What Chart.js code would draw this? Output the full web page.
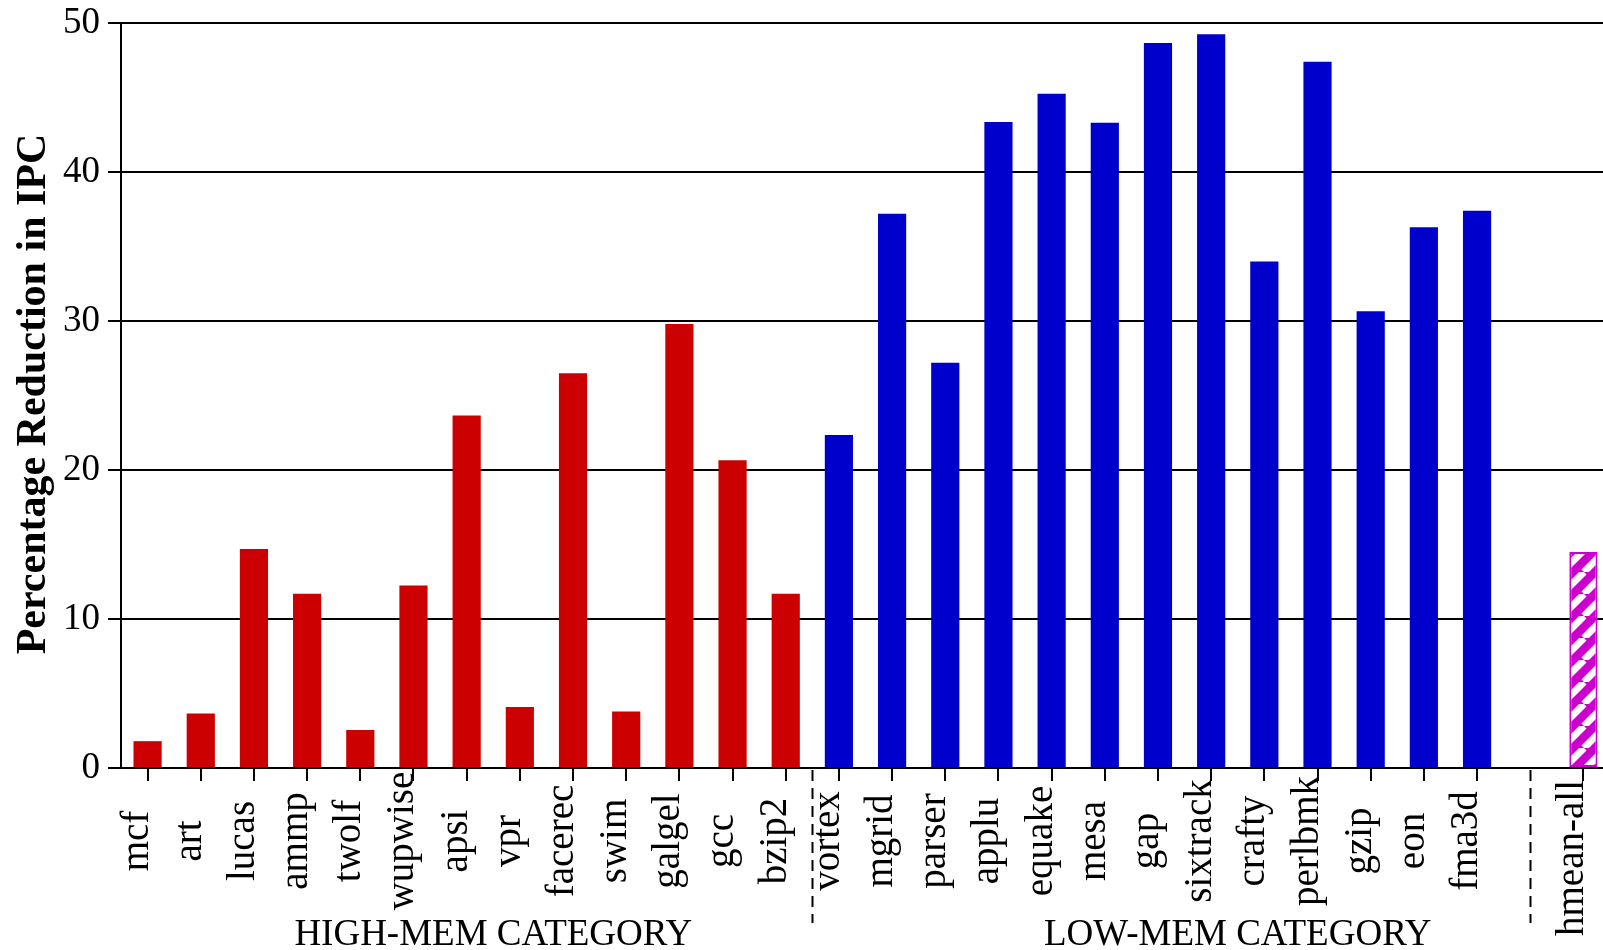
<!DOCTYPE html>
<html>
<head>
<meta charset="utf-8">
<title>Percentage Reduction in IPC</title>
<script src="https://cdn.jsdelivr.net/npm/chart.js@4/dist/chart.umd.min.js"></script>
<style>
  html, body { margin: 0; padding: 0; background: #fff; overflow: hidden; }
  canvas { display: block; }
</style>
</head>
<body>
<canvas id="ipc" width="1610" height="950"></canvas>
<script>
// Benchmarks that are sensitive to memory latency
const highMemLabels = ['mcf', 'art', 'lucas', 'ammp', 'twolf', 'wupwise', 'apsi',
  'vpr', 'facerec', 'swim', 'galgel', 'gcc', 'bzip2'];
const highMemValues = [1.8, 3.65, 14.7, 11.7, 2.55, 12.25, 23.65,
  4.1, 26.5, 3.8, 29.8, 20.65, 11.7];

// Benchmarks that are mostly insensitive to memory latency
const lowMemLabels = ['vortex', 'mgrid', 'parser', 'applu', 'equake', 'mesa', 'gap',
  'sixtrack', 'crafty', 'perlbmk', 'gzip', 'eon', 'fma3d'];
const lowMemValues = [22.35, 37.2, 27.2, 43.35, 45.25, 43.3, 48.65,
  49.25, 34.0, 47.4, 30.65, 36.3, 37.4];

// Harmonic mean over all benchmarks
const meanLabel = 'hmean-all';
const meanValue = 14.5;

const yTicks = [0, 10, 20, 30, 40, 50];
const groupTitles = ['HIGH-MEM CATEGORY', 'LOW-MEM CATEGORY'];
const axisTitle = 'Percentage Reduction in IPC';

// One empty slot separates the mean from the benchmarks
const categories = [...highMemLabels, ...lowMemLabels, '', meanLabel];
const gapIndex = highMemLabels.length + lowMemLabels.length;
const meanIndex = categories.length - 1;
const nulls = n => new Array(n).fill(null);

const RED = '#cc0000', BLUE = '#0000cc', MAGENTA = '#cc00cc';
const SERIF = "'Liberation Serif', 'Times New Roman', serif";

function stripes() {
  const s = 22;
  const c = document.createElement('canvas');
  c.width = s; c.height = s;
  const g = c.getContext('2d');
  g.fillStyle = MAGENTA;
  g.fillRect(0, 0, s, s);
  g.strokeStyle = '#fff';
  g.lineWidth = 7;
  for (const k of [-1, 0, 1]) {
    g.beginPath();
    g.moveTo(k * s, s);
    g.lineTo(k * s + s, 0);
    g.stroke();
  }
  return g.createPattern(c, 'repeat');
}

// Tick labels, group separators and captions
const decorations = {
  id: 'decorations',
  afterDraw(chart) {
    const ctx = chart.ctx;
    const x = chart.scales.x;
    const area = chart.chartArea;
    ctx.save();
    ctx.fillStyle = '#000';

    // rotated benchmark names, baseline on the tick
    ctx.font = '39px ' + SERIF;
    ctx.textAlign = 'center';
    ctx.textBaseline = 'alphabetic';
    categories.forEach((label, i) => {
      if (!label) return;
      ctx.save();
      ctx.translate(x.getPixelForValue(i), i === meanIndex ? 858 : 841);
      ctx.rotate(-Math.PI / 2);
      ctx.fillText(label, 0, 0);
      ctx.restore();
    });

    // dashed separators between groups
    ctx.strokeStyle = '#000';
    ctx.lineWidth = 2;
    ctx.setLineDash([11, 7]);
    for (const v of [highMemLabels.length - 0.5, gapIndex]) {
      const px = Math.round(x.getPixelForValue(v)) + 0.5;
      ctx.beginPath();
      ctx.moveTo(px, area.bottom + 2);
      ctx.lineTo(px, 923);
      ctx.stroke();
    }
    ctx.setLineDash([]);

    // group captions
    ctx.font = '37px ' + SERIF;
    ctx.textAlign = 'center';
    ctx.fillText(groupTitles[0], x.getPixelForValue(6.5), 945);
    ctx.fillText(groupTitles[1], x.getPixelForValue(20.5), 945);

    // y axis title
    ctx.font = 'bold 42px ' + SERIF;
    ctx.save();
    ctx.translate(45, 394);
    ctx.rotate(-Math.PI / 2);
    ctx.fillText(axisTitle, 0, 0);
    ctx.restore();

    ctx.restore();
  }
};

new Chart(document.getElementById('ipc'), {
  type: 'bar',
  data: {
    labels: categories,
    datasets: [
      { label: 'high', data: [...highMemValues, ...nulls(categories.length - highMemValues.length)],
        backgroundColor: RED, borderWidth: 0 },
      { label: 'low', data: [...nulls(highMemLabels.length), ...lowMemValues, ...nulls(2)],
        backgroundColor: BLUE, borderWidth: 0 },
      { label: 'mean', data: [...nulls(categories.length - 1), meanValue],
        backgroundColor: stripes(), borderColor: MAGENTA, borderWidth: 2, borderSkipped: false }
    ]
  },
  options: {
    responsive: false,
    animation: false,
    devicePixelRatio: 1,
    layout: { padding: { top: 23, right: 0, left: 0, bottom: 0 } },
    datasets: { bar: { grouped: false, barPercentage: 0.53, categoryPercentage: 1.0 } },
    plugins: { legend: { display: false }, tooltip: { enabled: false } },
    scales: {
      x: {
        offset: true,
        afterFit: s => { s.height = 182; s.paddingLeft = 0; s.paddingRight = 0; },
        ticks: { display: false, autoSkip: false },
        grid: {
          offset: false,
          drawOnChartArea: false,
          drawTicks: true,
          tickLength: 13,
          lineWidth: 2,
          color: c => (c.index === gapIndex ? 'rgba(0,0,0,0)' : '#000')
        },
        border: { display: true, color: '#000', width: 2 }
      },
      y: {
        min: yTicks[0],
        max: yTicks[yTicks.length - 1],
        afterFit: s => { s.width = 121; s.paddingTop = 0; s.paddingBottom = 0; },
        afterBuildTicks: s => { s.ticks = yTicks.map(v => ({ value: v })); },
        ticks: { font: { family: SERIF, size: 37 }, color: '#000', padding: 8 },
        grid: { color: '#000', lineWidth: 2, drawTicks: true, tickLength: 13 },
        border: { display: true, color: '#000', width: 2 }
      }
    }
  },
  plugins: [decorations]
});
</script>
</body>
</html>
